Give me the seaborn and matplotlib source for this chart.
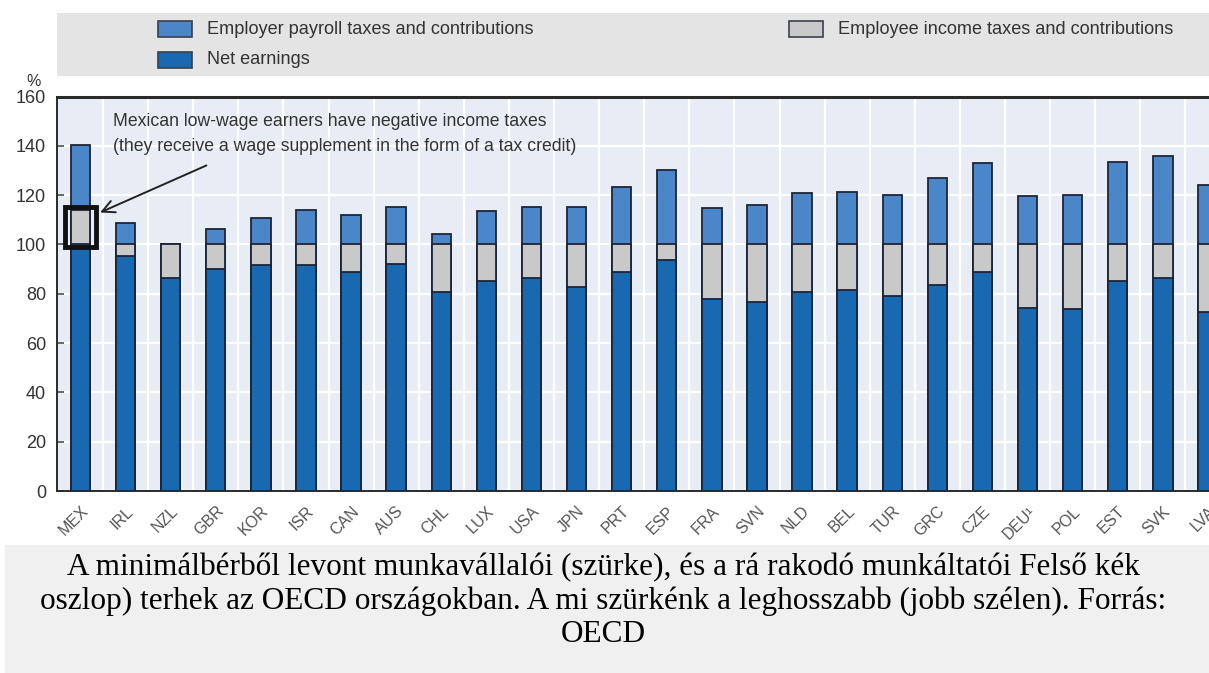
import matplotlib
matplotlib.use("Agg")
import matplotlib.pyplot as plt
import seaborn as sns
import pandas as pd
import numpy as np
from matplotlib.patches import Rectangle

countries = ["MEX", "IRL", "NZL", "GBR", "KOR", "ISR", "CAN", "AUS", "CHL", "LUX",
             "USA", "JPN", "PRT", "ESP", "FRA", "SVN", "NLD", "BEL", "TUR", "GRC",
             "CZE", "DEU¹", "POL", "EST", "SVK", "LVA"]
net_earnings = [100.0, 95.5, 86.2, 90.1, 91.5, 91.5, 88.8, 92.2, 80.8, 85.2,
                86.5, 82.9, 88.8, 93.5, 78.0, 76.5, 80.6, 81.4, 78.9, 83.4,
                88.7, 74.2, 73.8, 85.2, 86.4, 72.7]
employee_taxes = [14.0, 4.5, 13.8, 9.9, 8.5, 8.5, 11.2, 7.8, 19.2, 14.8,
                  13.5, 17.1, 11.2, 6.5, 22.0, 23.5, 19.4, 18.6, 21.1, 16.6,
                  11.3, 25.8, 26.2, 14.8, 13.6, 27.3]
employer_taxes = [26.4, 8.5, 0.0, 6.1, 10.7, 13.9, 12.1, 15.0, 4.3, 13.4,
                  15.0, 15.0, 23.2, 30.0, 14.7, 16.1, 20.7, 21.3, 20.1, 27.0,
                  33.1, 19.5, 20.2, 33.4, 35.8, 24.2]
y_ticks = [0, 20, 40, 60, 80, 100, 120, 140, 160]

legend_labels = ["Employer payroll taxes and contributions", "Net earnings",
                 "Employee income taxes and contributions"]
annotation_text = ("Mexican low-wage earners have negative income taxes\n"
                   "(they receive a wage supplement in the form of a tax credit)")
caption = ("A minimálbérből levont munkavállalói (szürke), és a rá rakodó munkáltatói Felső kék\n"
           "oszlop) terhek az OECD országokban. A mi szürkénk a leghosszabb (jobb szélen). Forrás:\n"
           "OECD")

C_NET = "#1869b0"
C_EMPLOYER = "#4a86c8"
C_EMPLOYEE = "#c9c9c9"
EDGE = "#1c2538"
BG = "#e8ecf4"

W, H = 1209, 673
sns.set_theme(style="white")
plt.rcParams['font.family'] = ['Liberation Sans', 'DejaVu Sans']

fig = plt.figure(figsize=(W / 100, H / 100), dpi=100)


def fx(px):
    return px / W


def fy(py):
    return 1 - py / H


# legend band and caption band
fig.patches.append(Rectangle((fx(57), fy(76)), 1 - fx(57), fy(13) - fy(76),
                             transform=fig.transFigure, facecolor="#e4e4e4",
                             edgecolor="none", zorder=0))
fig.patches.append(Rectangle((fx(5), 0), 1 - fx(5), fy(545),
                             transform=fig.transFigure, facecolor="#f0f0f0",
                             edgecolor="none", zorder=0))

spacing = 45.1
x_left, x_right = -0.52, 26.0
ax_w = (x_right - x_left) * spacing / W
ax = fig.add_axes([fx(57), fy(491), ax_w, fy(96.5) - fy(491)])
ax.set_facecolor(BG)

df = pd.DataFrame({
    "country": countries,
    "net": net_earnings,
    "employee": employee_taxes,
    "employer": employer_taxes,
})
df["mid"] = df["net"] + df["employee"]
df["total"] = df["mid"] + df["employer"]

for col, colr in [("total", C_EMPLOYER), ("mid", C_EMPLOYEE), ("net", C_NET)]:
    sns.barplot(data=df, x="country", y=col, order=countries, color=colr,
                saturation=1, width=0.43, edgecolor=EDGE, linewidth=1.3,
                ax=ax, zorder=3)

ax.set_xlim(x_left, x_right)
ax.set_ylim(0, 160)
ax.set_yticks(y_ticks)
ax.set_xlabel("")
ax.set_ylabel("")
n = len(countries)
ax.set_xticks(np.arange(n))
ax.set_xticklabels(countries, rotation=45, ha="right", rotation_mode="anchor",
                   fontsize=11.5, color="#555555")
ax.set_xticks(np.arange(n) + 0.5, minor=True)
ax.tick_params(axis="x", which="major", length=0, pad=9)
ax.tick_params(axis="x", which="minor", length=4, direction="in",
               color="#555555", width=1)
ax.tick_params(axis="y", which="major", length=5, direction="in",
               color="#555555", labelsize=13, labelcolor="#333333", pad=8,
               left=True)
ax.grid(False)
ax.grid(which="minor", axis="x", color="white", linewidth=1.6, zorder=0)
ax.grid(which="major", axis="y", color="white", linewidth=1.6, zorder=0)
ax.set_axisbelow(True)
for s in ["left", "bottom"]:
    ax.spines[s].set_color("#2a2a2a")
    ax.spines[s].set_linewidth(1.4)
ax.spines["top"].set_color("#2a2a2a")
ax.spines["top"].set_linewidth(2.2)
ax.spines["right"].set_visible(False)

# highlight box around the Mexican employee segment
ax.add_patch(Rectangle((-0.34, 98.8), 0.68, 16.2, fill=False,
                       edgecolor="#111111", linewidth=3.5, zorder=5))
ax.annotate("", xy=(0.38, 112.5), xytext=(2.85, 132.5),
            arrowprops=dict(arrowstyle="->", color="#222222", lw=1.4,
                            mutation_scale=22), zorder=6)
ax.text(0.72, 153.5, annotation_text, ha="left", va="top", fontsize=12.7,
        color="#333333", linespacing=1.65, zorder=6)

# percent sign
fig.text(fx(34), fy(82), "%", ha="center", va="center", fontsize=11.5,
         color="#333333")

# legend
def swatch(x0, y0, color):
    fig.patches.append(Rectangle((fx(x0), fy(y0 + 16)), fx(34), fy(0) - fy(16),
                                 transform=fig.transFigure, facecolor=color,
                                 edgecolor="#3a3f4a", linewidth=1.2, zorder=2))

swatch(158, 21, C_EMPLOYER)
swatch(158, 52, C_NET)
swatch(789, 21, C_EMPLOYEE)
fig.text(fx(207), fy(29), legend_labels[0], ha="left", va="center",
         fontsize=13.1, color="#333333")
fig.text(fx(207), fy(60), legend_labels[1], ha="left", va="center",
         fontsize=13.1, color="#333333")
fig.text(fx(838), fy(29), legend_labels[2], ha="left", va="center",
         fontsize=13.1, color="#333333")

# caption
fig.text(0.499, fy(601), caption, ha="center", va="center", fontsize=22.5,
         family=["Liberation Serif", "DejaVu Serif"], color="#000000",
         linespacing=1.17)

fig.savefig("out.png", dpi=100)
